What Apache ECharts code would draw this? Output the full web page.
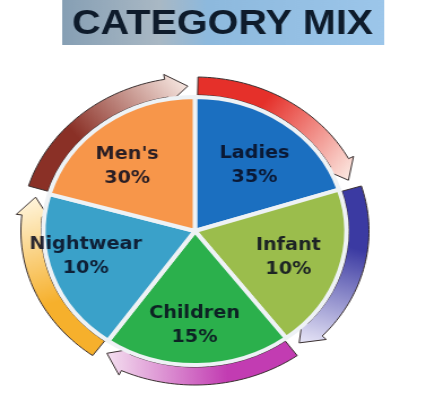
<!DOCTYPE html>
<html><head><meta charset="utf-8">
<script src="https://cdn.jsdelivr.net/npm/echarts@6/dist/echarts.min.js"></script>
<style>
html,body{margin:0;padding:0;background:#fff;overflow:hidden}
#wrap{width:426px;height:403px;overflow:hidden}
#chart{width:377px;height:403px;transform:scaleX(1.13);transform-origin:0 0}
</style>
</head><body><div id="wrap"><div id="chart"></div></div>
<script>
// ---- data ----
const titleText = 'CATEGORY MIX';
const categories = ['Ladies', 'Infant', 'Children', 'Nightwear', "Men's"];
const percents = [35, 10, 15, 10, 30];
// angular size of each drawn slice, in degrees, as measured on the picture
const sliceSpans = [72, 71, 72, 71, 74];

// ---- styling ----
const sliceColors = ['#1b6fc0', '#9bbd4c', '#2bb04c', '#3aa1c9', '#f7964a'];
const ringStart = ['#e5302a', '#3b3aa2', '#c23cb2', '#f6b02c', '#8a3026'];
const ringEnd = ['#fce9e2', '#e8e6f7', '#f4e0f0', '#fff5dc', '#f6e6e0'];
const labelNudge = [[-2, 10], [-6, -1], [-2, 2], [-9, -5], [-4, 10]];

const CX = 172.5, CY = 231, R = 134, RI = 136, RO = 154;

function pt(a, r) {
  const t = a * Math.PI / 180;
  return [CX + r * Math.sin(t), CY - r * Math.cos(t)];
}
function renderArrow(params, api) {
  const i = params.dataIndex;
  let a0 = 0;
  for (let k = 0; k < i; k++) a0 += sliceSpans[k];
  const a1 = a0 + sliceSpans[i];
  const s = a0 + 1, base = a1 - 10, tip = a1 - 2.5;
  const pts = [];
  const n = 40;
  for (let k = 0; k <= n; k++) pts.push(pt(s + (base - s) * k / n, RO));
  pts.push(pt(base, RO + 5));
  pts.push(pt(tip, (RI + RO) / 2));
  pts.push(pt(base, RI - 6));
  for (let k = n; k >= 0; k--) pts.push(pt(s + (base - s) * k / n, RI));
  const p0 = pt(s, (RI + RO) / 2), p1 = pt(tip, (RI + RO) / 2);
  return {
    type: 'polygon',
    shape: { points: pts },
    style: {
      fill: new echarts.graphic.LinearGradient(p0[0], p0[1], p1[0], p1[1], [
        { offset: 0, color: ringStart[i] },
        { offset: 0.35, color: ringStart[i] },
        { offset: 1, color: ringEnd[i] }
      ], true),
      stroke: '#3a3030',
      lineWidth: 1
    }
  };
}

const chart = echarts.init(document.getElementById('chart'));
chart.setOption({
  animation: false,
  backgroundColor: '#ffffff',
  graphic: [
    {
      type: 'rect', z: 10,
      shape: { x: 55, y: 0, width: 285, height: 45 },
      style: {
        fill: new echarts.graphic.LinearGradient(0, 0, 1, 0, [
          { offset: 0, color: '#869fb4' },
          { offset: 0.3, color: '#a9b8c4' },
          { offset: 0.45, color: '#8db9dd' },
          { offset: 1, color: '#9cc6ea' }
        ])
      }
    },
    {
      type: 'text', z: 11, x: 197, y: 24,
      style: {
        text: titleText,
        font: 'bold 35px "Liberation Sans", Arial, sans-serif',
        fill: '#0e1b2b',
        textAlign: 'center', textVerticalAlign: 'middle',
        align: 'center', verticalAlign: 'middle'
      }
    }
  ],
  series: [
    {
      type: 'pie', silent: true,
      radius: [0, R], center: [CX, CY], startAngle: 90, clockwise: true,
      data: categories.map((c, i) => ({ name: c, value: sliceSpans[i], itemStyle: { color: sliceColors[i] } })),
      itemStyle: { borderColor: '#eef2f5', borderWidth: 4 },
      label: { show: false }, labelLine: { show: false }
    },
    {
      type: 'pie', silent: true,
      radius: [46, R], center: [CX, CY], startAngle: 90, clockwise: true,
      data: categories.map((c, i) => ({ name: c, value: sliceSpans[i] })),
      itemStyle: { color: 'rgba(0,0,0,0)' },
      label: {
        show: true, position: 'inside',
        formatter: p => p.name + '\n' + percents[p.dataIndex] + '%',
        fontFamily: '"DejaVu Sans", sans-serif', fontWeight: 'bold', fontSize: 17,
        lineHeight: 24, color: 'rgba(8,10,30,0.86)'
      },
      labelLayout: p => ({ dx: labelNudge[p.dataIndex][0], dy: labelNudge[p.dataIndex][1] }),
      labelLine: { show: false }
    },
    {
      type: 'custom', coordinateSystem: 'none', silent: true,
      data: categories.map((c, i) => i),
      renderItem: renderArrow
    }
  ]
});
</script>
</body></html>
